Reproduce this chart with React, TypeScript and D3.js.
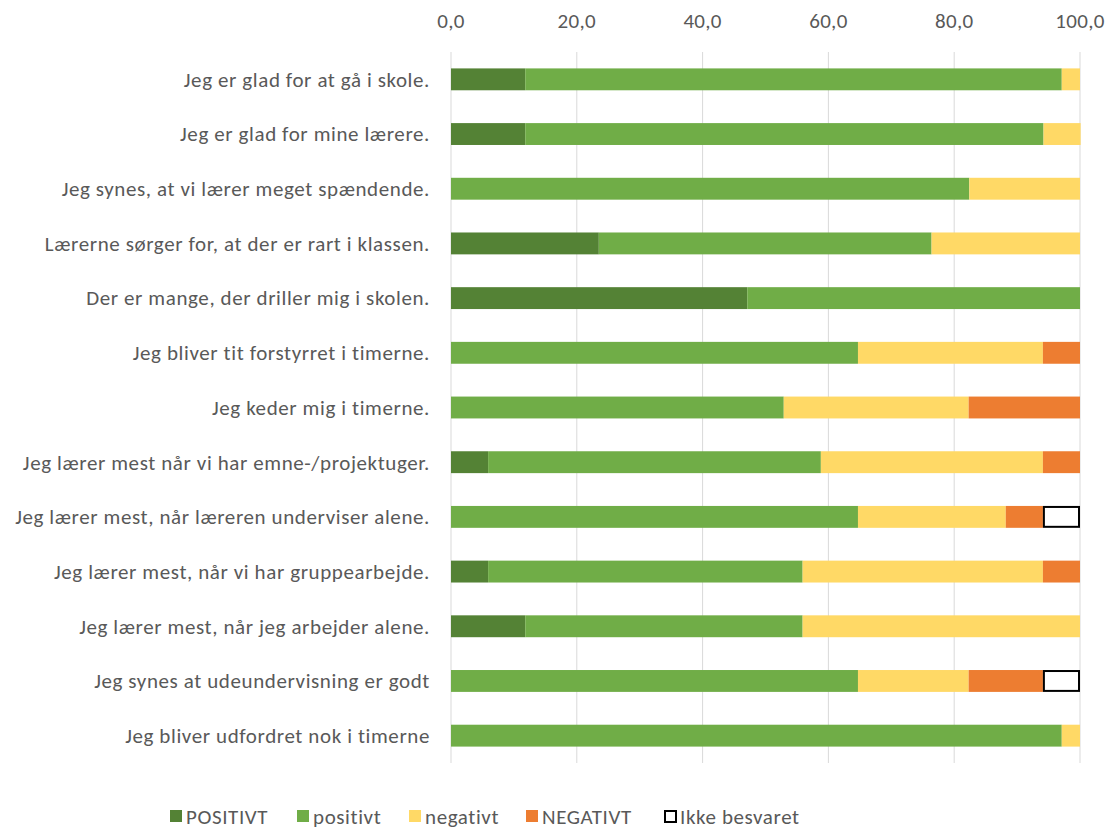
import React from "react";
import * as d3 from "d3";

const categories = [
  "Jeg er glad for at gå i skole.",
  "Jeg er glad for mine lærere.",
  "Jeg synes, at vi lærer meget spændende.",
  "Lærerne sørger for, at der er rart i klassen.",
  "Der er mange, der driller mig i skolen.",
  "Jeg bliver tit forstyrret i timerne.",
  "Jeg keder mig i timerne.",
  "Jeg lærer mest når vi har emne-/projektuger.",
  "Jeg lærer mest, når læreren underviser alene.",
  "Jeg lærer mest, når vi har gruppearbejde.",
  "Jeg lærer mest, når jeg arbejder alene.",
  "Jeg synes at udeundervisning er godt",
  "Jeg bliver udfordret nok i timerne",
];

const seriesNames = ["POSITIVT", "positivt", "negativt", "NEGATIVT", "Ikke besvaret"];

const POSITIVT = [11.8, 11.8, 0, 23.5, 47.1, 0, 0, 5.9, 0, 5.9, 11.8, 0, 0];
const positivt = [85.3, 82.4, 82.4, 52.9, 52.9, 64.7, 52.9, 52.9, 64.7, 50.0, 44.1, 64.7, 97.1];
const negativt = [2.9, 5.9, 17.6, 23.6, 0, 29.4, 29.4, 35.3, 23.5, 38.2, 44.1, 17.6, 2.9];
const NEGATIVT = [0, 0, 0, 0, 0, 5.9, 17.7, 5.9, 5.9, 5.9, 0, 11.8, 0];
const ikkeBesvaret = [0, 0, 0, 0, 0, 0, 0, 0, 5.9, 0, 0, 5.9, 0];

const xTicks = [0, 20, 40, 60, 80, 100];

const colors = ["#548235", "#70AD47", "#FFD966", "#ED7D31", "#FFFFFF"];

const FONT = "Carlito, Calibri, Lato, sans-serif";
const TEXT = "#595959";

export default function App() {
  const W = 1119;
  const H = 829;
  const left = 451;
  const right = 1080;
  const top = 52;
  const bottom = 763;

  const x = d3.scaleLinear().domain([0, 100]).range([left, right]);
  const y = d3.scaleBand<string>().domain(categories).range([top, bottom]).paddingInner(0.6).paddingOuter(0.3);

  const rows = categories.map((c, i) => ({
    cat: c,
    POSITIVT: POSITIVT[i],
    positivt: positivt[i],
    negativt: negativt[i],
    NEGATIVT: NEGATIVT[i],
    "Ikke besvaret": ikkeBesvaret[i],
  }));
  const stack = d3.stack<any>().keys(seriesNames)(rows);

  const legendX = [170, 297, 409, 526, 664];

  return (
    <svg width={W} height={H} style={{ position: "absolute", left: 0, top: 0 }}>
      <rect x={0} y={0} width={W} height={H} fill="#fff" />
      {xTicks.map((t) => (
        <g key={t}>
          <line x1={x(t)} x2={x(t)} y1={top} y2={bottom} stroke="#D9D9D9" strokeWidth={1} />
          <text x={x(t)} y={28} textAnchor="middle" fontFamily={FONT} fontSize={21} letterSpacing={0.3} fill={TEXT}>
            {d3.format(".1f")(t).replace(".", ",")}
          </text>
        </g>
      ))}
      {categories.map((c) => (
        <text
          key={c}
          x={430}
          y={(y(c) as number) + y.bandwidth() / 2}
          dy="0.35em"
          textAnchor="end"
          fontFamily={FONT}
          fontSize={21}
          letterSpacing={0.6}
          fill={TEXT}
        >
          {c}
        </text>
      ))}
      {stack.map((s, si) => (
        <g key={s.key}>
          {s.map((d, i) => {
            const w = x(d[1]) - x(d[0]);
            if (w <= 0.01) return null;
            const isIkke = si === 4;
            return (
              <rect
                key={i}
                x={x(d[0]) + (isIkke ? 1 : 0)}
                y={(y(categories[i]) as number) + (isIkke ? 1 : 0)}
                width={w - (isIkke ? 2 : 0)}
                height={y.bandwidth() - (isIkke ? 2 : 0)}
                fill={colors[si]}
                stroke={isIkke ? "#000" : "none"}
                strokeWidth={isIkke ? 2 : 0}
              />
            );
          })}
        </g>
      ))}
      {seriesNames.map((n, i) => (
        <g key={n}>
          <rect
            x={legendX[i] + (i === 4 ? 1 : 0)}
            y={810 + (i === 4 ? 1 : 0)}
            width={i === 4 ? 11 : 12}
            height={i === 4 ? 11 : 12}
            fill={colors[i]}
            stroke={i === 4 ? "#000" : "none"}
            strokeWidth={i === 4 ? 2 : 0}
          />
          <text x={legendX[i] + 16} y={824} fontFamily={FONT} fontSize={21} letterSpacing={0.6} fill={TEXT}>
            {n}
          </text>
        </g>
      ))}
    </svg>
  );
}
